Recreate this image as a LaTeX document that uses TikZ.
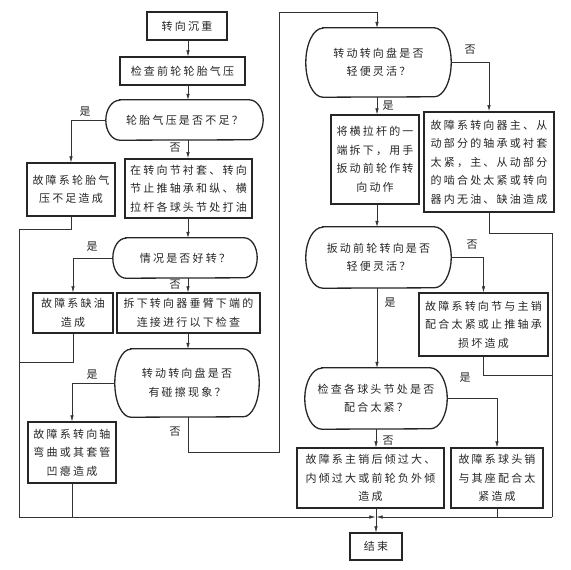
\documentclass[tikz,border=0pt]{standalone}
\usepackage{fontspec}
\newfontfamily\cjk{Noto Sans CJK SC}[LetterSpace=20]
\usetikzlibrary{arrows.meta}
\newcommand\stad[3]{%
  \draw[sline] ([xshift=#2]#1.north west) -- ([xshift=-#2]#1.north east)
    arc[start angle=90,end angle=-90,x radius=#2,y radius=#3]
    -- ([xshift=#2]#1.south west)
    arc[start angle=270,end angle=90,x radius=#2,y radius=#3] -- cycle;}
\begin{document}
\begin{tikzpicture}[x=1pt,y=-1pt,
  txt/.style={font=\cjk\fontsize{11}{18.5}\selectfont, align=center, inner sep=0pt, text=black!85},
  box/.style={txt, draw=black!85, line width=1.3pt},
  tbox/.style={txt, draw=black!85, line width=1.9pt},
  stadnode/.style={txt},
  sline/.style={draw=black!85, line width=1.3pt},
  line/.style={draw=black!80, line width=0.6pt},
  arr/.style={line, -{Latex[length=6pt,width=3.5pt]}},
  lab/.style={font=\cjk\fontsize{11}{13}\selectfont, inner sep=0pt, text=black!85}]
\path[use as bounding box] (0,0) rectangle (571,570);
% nodes
\node[box, minimum width=80pt, minimum height=28pt] (start) at (187,26) {转向沉重};
\node[box, minimum width=125pt, minimum height=28pt] (check) at (182.5,71) {检查前轮轮胎气压};
\node[stadnode, minimum width=157pt, minimum height=40pt] (d1) at (184.5,120) {轮胎气压是否不足？};
\node[tbox, minimum width=127pt, minimum height=59pt] (b1) at (188.5,188.5) {在转向节衬套、转向\\节止推轴承和纵、横\\拉杆各球头节处打油};
\node[box, minimum width=88pt, minimum height=53pt] (L1) at (71,189.5) {故障系轮胎气\\压不足造成};
\node[stadnode, minimum width=144pt, minimum height=40pt] (d2) at (185,258) {情况是否好转？};
\node[box, minimum width=80pt, minimum height=40pt] (L2) at (73,313) {故障系缺油\\造成};
\node[box, minimum width=143pt, minimum height=40pt] (b2) at (188.5,313) {拆下转向器垂臂下端的\\连接进行以下检查};
\node[stadnode, minimum width=144pt, minimum height=68pt] (d3) at (187,383) {转动转向盘是否\\有碰擦现象？};
\node[box, minimum width=88pt, minimum height=61pt] (L3) at (72,452.5) {故障系转向轴\\弯曲或其套管\\凹瘪造成};
\node[stadnode, minimum width=145pt, minimum height=69pt] (d4) at (378.5,62.5) {转动转向盘是否\\轻便灵活？};
\node[box, minimum width=88pt, minimum height=89pt] (b3) at (375,159.5) {将横拉杆的一\\端拆下，用手\\扳动前轮作转\\向动作};
\node[tbox, minimum width=130pt, minimum height=100pt] (R1) at (489,162) {故障系转向器主、从\\动部分的轴承或衬套\\太紧，主、从动部分\\的啮合处太紧或转向\\器内无油、缺油造成};
\node[stadnode, minimum width=145pt, minimum height=61pt] (d5) at (378.5,257.5) {扳动前轮转向是否\\轻便灵活？};
\node[box, minimum width=129pt, minimum height=63pt] (R2) at (483.5,324.5) {故障系转向节与主销\\配合太紧或止推轴承\\损坏造成};
\node[stadnode, minimum width=142pt, minimum height=61pt] (d6) at (376,398.5) {检查各球头节处是否\\配合太紧？};
\node[box, minimum width=147pt, minimum height=60pt] (b4) at (370.5,478) {故障系主销后倾过大、\\内倾过大或前轮负外倾\\造成};
\node[box, minimum width=92pt, minimum height=60pt] (R3) at (497,478) {故障系球头销\\与其座配合太\\紧造成};
\node[box, minimum width=52pt, minimum height=27pt] (end) at (376,546.5) {结束};
% stadium outlines
\stad{d1}{14pt}{20pt}
\stad{d2}{13pt}{20pt}
\stad{d3}{16pt}{34pt}
\stad{d4}{17pt}{34.5pt}
\stad{d5}{17pt}{30.5pt}
\stad{d6}{17pt}{30.5pt}
% helper coordinates
\coordinate (cx) at (188,0);
\coordinate (cR) at (377,0);
\coordinate (t1) at (279,452);
\coordinate (t2) at (279,12);
\coordinate (LT) at (19,229);
\coordinate (LM) at (19,362);
\coordinate (LB) at (19,517);
\coordinate (RT) at (552,233);
\coordinate (RM) at (552,375);
\coordinate (RB) at (552,517);
\coordinate (M) at (376,517);
% left column
\draw[arr] (start.south -| cx) -- (check.north -| cx);
\draw[arr] (check.south -| cx) -- (d1.north -| cx);
\draw[arr] (d1.south -| cx) -- (b1.north -| cx);
\draw[arr] (d1.west) -| (L1.north);
\draw[arr] (b1.south -| cx) -- (d2.north -| cx);
\draw[arr] (d2.west) -| (L2.north);
\draw[arr] (d2.south -| cx) -- (b2.north -| cx);
\draw[arr] (b2.south -| cx) -- (d3.north -| cx);
\draw[arr] (d3.west) -| (L3.north);
\draw[arr] (d3.south -| cx) |- (t1) -- (t2) -| (d4.north -| cR);
% right column
\draw[arr] (d4.south -| cR) -- (b3.north -| cR);
\draw[arr] (d4.east) -| (R1.north);
\draw[arr] (b3.south -| cR) -- (d5.north -| cR);
\draw[arr] (d5.east) -| (R2.north);
\draw[arr] (d5.south -| cR) -- (d6.north -| cR);
\draw[arr] (d6.east) -| (R3.north);
\draw[arr] (d6.south -| M) -- (b4.north -| M);
% collectors
\draw[line] (L1.south) |- (LT) -- (LB);
\draw[line] (L2.south) |- (LM);
\draw[line] (L3.south) -- (L3.south |- LB);
\draw[arr] (LB) -- ([xshift=-0.6pt]M);
\draw[line] (R1.south) |- (RT) -- (RB);
\draw[line] (R2.south) |- (RM);
\draw[line] (R3.south) -- (R3.south |- RB);
\draw[arr] (RB) -- ([xshift=0.6pt]M);
\draw[arr] (b4.south -| M) -- (end.north);
% labels
\node[lab] at (85,112) {是};
\node[lab] at (175,148) {否};
\node[lab] at (92,247) {是};
\node[lab] at (175,285) {否};
\node[lab] at (92,375) {是};
\node[lab] at (175,432) {否};
\node[lab] at (470,50) {否};
\node[lab] at (388,106) {是};
\node[lab] at (472,245) {否};
\node[lab] at (390,303) {是};
\node[lab] at (465,378) {是};
\node[lab] at (388,441) {否};
\end{tikzpicture}
\end{document}
